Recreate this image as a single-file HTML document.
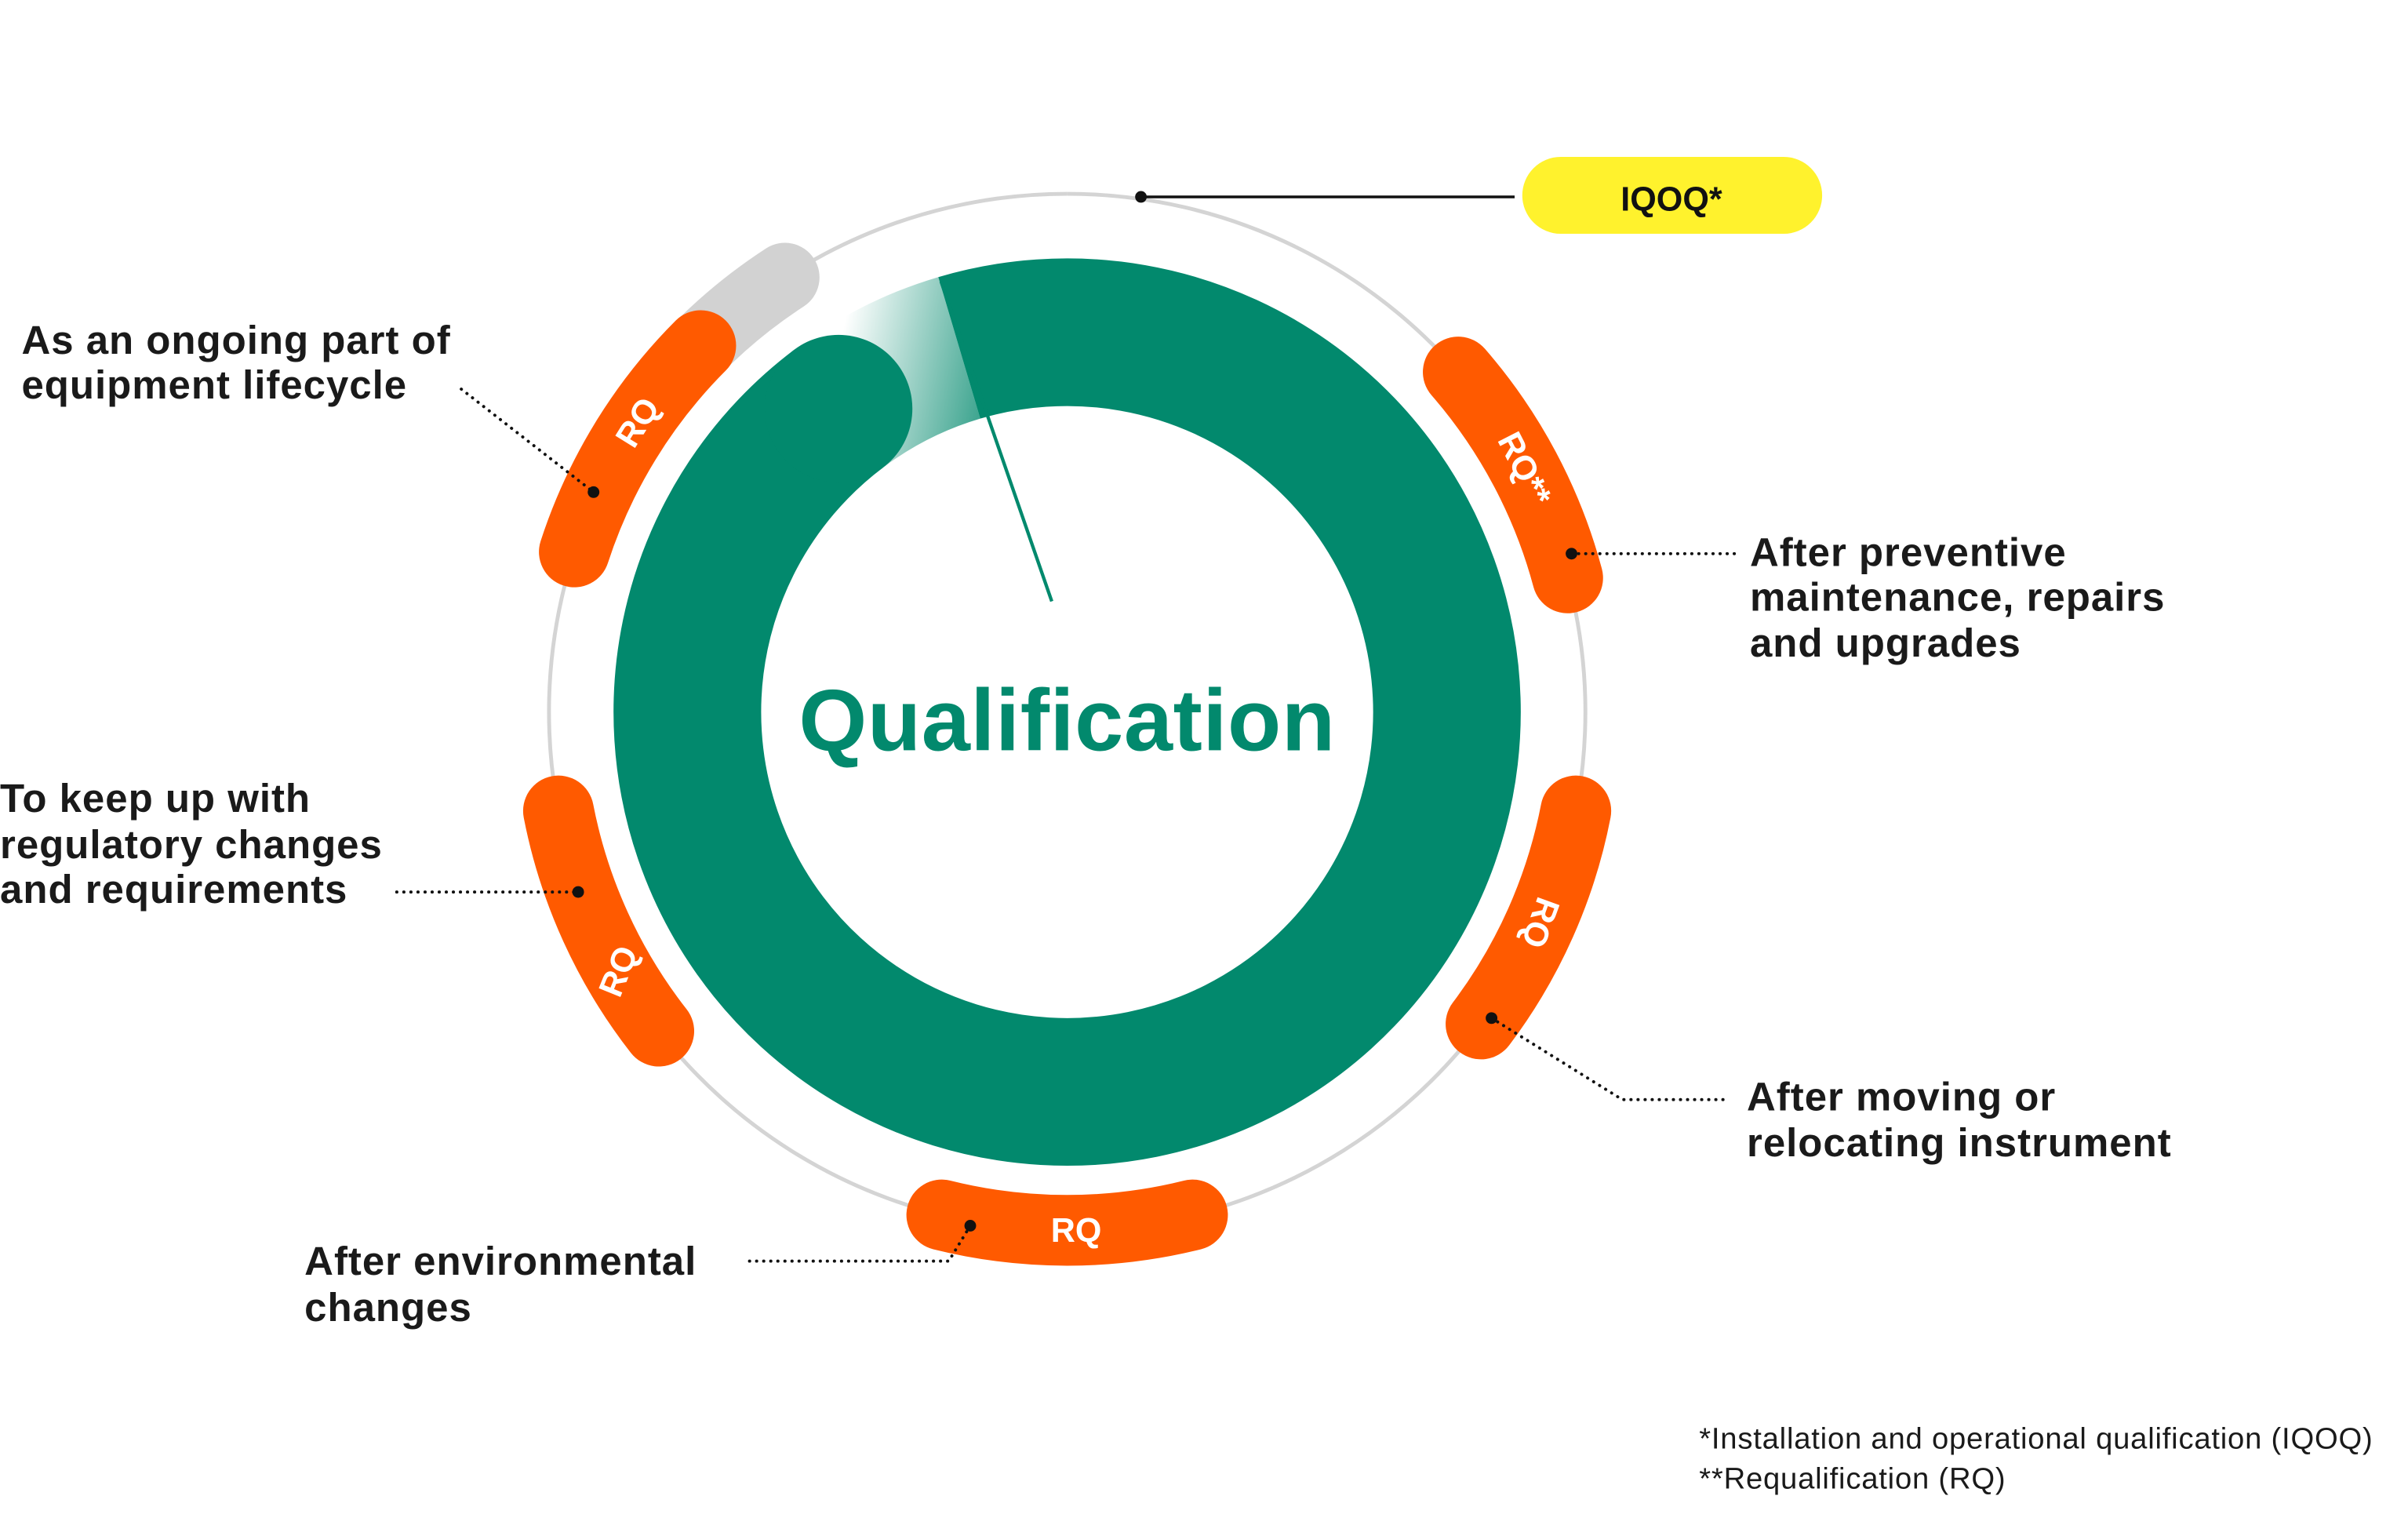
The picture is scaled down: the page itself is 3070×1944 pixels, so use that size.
<!DOCTYPE html>
<html><head><meta charset="utf-8"><style>
html,body{margin:0;padding:0;background:#fff}
svg{display:block}
text{font-family:"Liberation Sans",sans-serif}
</style></head><body>
<svg id="s" width="3070" height="1944" viewBox="0 0 1566 991.6" xmlns="http://www.w3.org/2000/svg">
<defs>
<linearGradient id="g" gradientUnits="userSpaceOnUse" x1="545" y1="230" x2="640" y2="250">
<stop offset="0" stop-color="#02896d" stop-opacity="0"/>
<stop offset="1" stop-color="#02896d" stop-opacity="0.75"/>
</linearGradient>
</defs>
<g id="arcs"></g>
<line x1="612" y1="183" x2="684" y2="391" stroke="#02896d" stroke-width="2.2"/>
<text x="694" y="488" text-anchor="middle" font-size="57" font-weight="bold" fill="#02896d" letter-spacing="0.3">Qualification</text>
<line x1="742" y1="128" x2="985" y2="128" stroke="#111" stroke-width="1.8"/>
<circle cx="742" cy="128" r="3.8" fill="#111"/>
<rect x="990" y="102" width="195" height="50" rx="25" fill="#fff22d"/>
<text x="1087" y="137" text-anchor="middle" font-size="22" font-weight="bold" fill="#111">IQOQ*</text>
<g stroke="#111" stroke-width="2" stroke-dasharray="0.1 4.5" stroke-linecap="round" fill="none">
<path d="M300 253 L386 320"/>
<path d="M1022 360 L1130 360"/>
<path d="M258 580 L376 580"/>
<path d="M970 662 L1055 715 L1125 715"/>
<path d="M631 797 L617 820 L483 820"/>
</g>
<g fill="#111">
<circle cx="386" cy="320" r="3.8"/><circle cx="1022" cy="360" r="3.8"/><circle cx="376" cy="580" r="3.8"/><circle cx="970" cy="662" r="3.8"/><circle cx="631" cy="797" r="3.8"/>
</g>
<g font-size="26" font-weight="bold" fill="#1a1a1a" letter-spacing="0.5">
<text x="14" y="230">As an ongoing part of</text>
<text x="14" y="259">equipment lifecycle</text>
<text x="1138" y="368">After preventive</text>
<text x="1138" y="397">maintenance, repairs</text>
<text x="1138" y="427">and upgrades</text>
<text x="0" y="528">To keep up with</text>
<text x="0" y="558">regulatory changes</text>
<text x="0" y="587">and requirements</text>
<text x="1136" y="722">After moving or</text>
<text x="1136" y="752">relocating instrument</text>
<text x="198" y="829">After environmental</text>
<text x="198" y="859">changes</text>
</g>
<g font-size="19.5" fill="#1a1a1a" letter-spacing="0.4">
<text x="1105" y="942">*Installation and operational qualification (IQOQ)</text>
<text x="1105" y="968">**Requalification (RQ)</text>
</g>
<g id="labels" font-size="22" font-weight="bold" fill="#fff" text-anchor="middle"></g>
</svg>
<script>
var cx=694,cy=463,NS="http://www.w3.org/2000/svg";
function P(r,a){a=a*Math.PI/180;return [cx+r*Math.sin(a),cy-r*Math.cos(a)];}
function arc(r,a1,a2){var p=P(r,a1),q=P(r,a2),l=(a2-a1)>180?1:0;return "M"+p[0]+" "+p[1]+" A"+r+" "+r+" 0 "+l+" 1 "+q[0]+" "+q[1];}
var g=document.getElementById("arcs");
function add(d,st,w,cap){var e=document.createElementNS(NS,"path");e.setAttribute("d",d);e.setAttribute("fill","none");e.setAttribute("stroke",st);e.setAttribute("stroke-width",w);e.setAttribute("stroke-linecap",cap||"butt");g.appendChild(e);}
add(arc(337,0,359.99),"#d4d4d4",2.5);
add(arc(337,-53,-33),"#d2d2d2",45,"round");
add(arc(247,-37,-16.5),"url(#g)",96);
add(arc(247,-16.5,323),"#02896d",96);
var c=P(247,-37);var ci=document.createElementNS(NS,"circle");ci.setAttribute("cx",c[0]);ci.setAttribute("cy",c[1]);ci.setAttribute("r",48);ci.setAttribute("fill","#02896d");g.appendChild(ci);
var segs=[[-72,-45],[49,75],[101,127],[166,194],[232,259]];
segs.forEach(function(s){add(arc(337,s[0],s[1]),"#ff5a00",46,"round");});
var L=document.getElementById("labels");
[["RQ",-56,-58],["RQ**",62,63],["RQ",114,110],["RQ",179,0],["RQ",240,-68]].forEach(function(t){
 var p=P(337,t[1]);var e=document.createElementNS(NS,"text");e.setAttribute("x",p[0]);e.setAttribute("y",p[1]);e.setAttribute("dy","7.5");
 e.setAttribute("transform","rotate("+t[2]+" "+p[0]+" "+p[1]+")");e.textContent=t[0];L.appendChild(e);});
</script>
</body></html>
